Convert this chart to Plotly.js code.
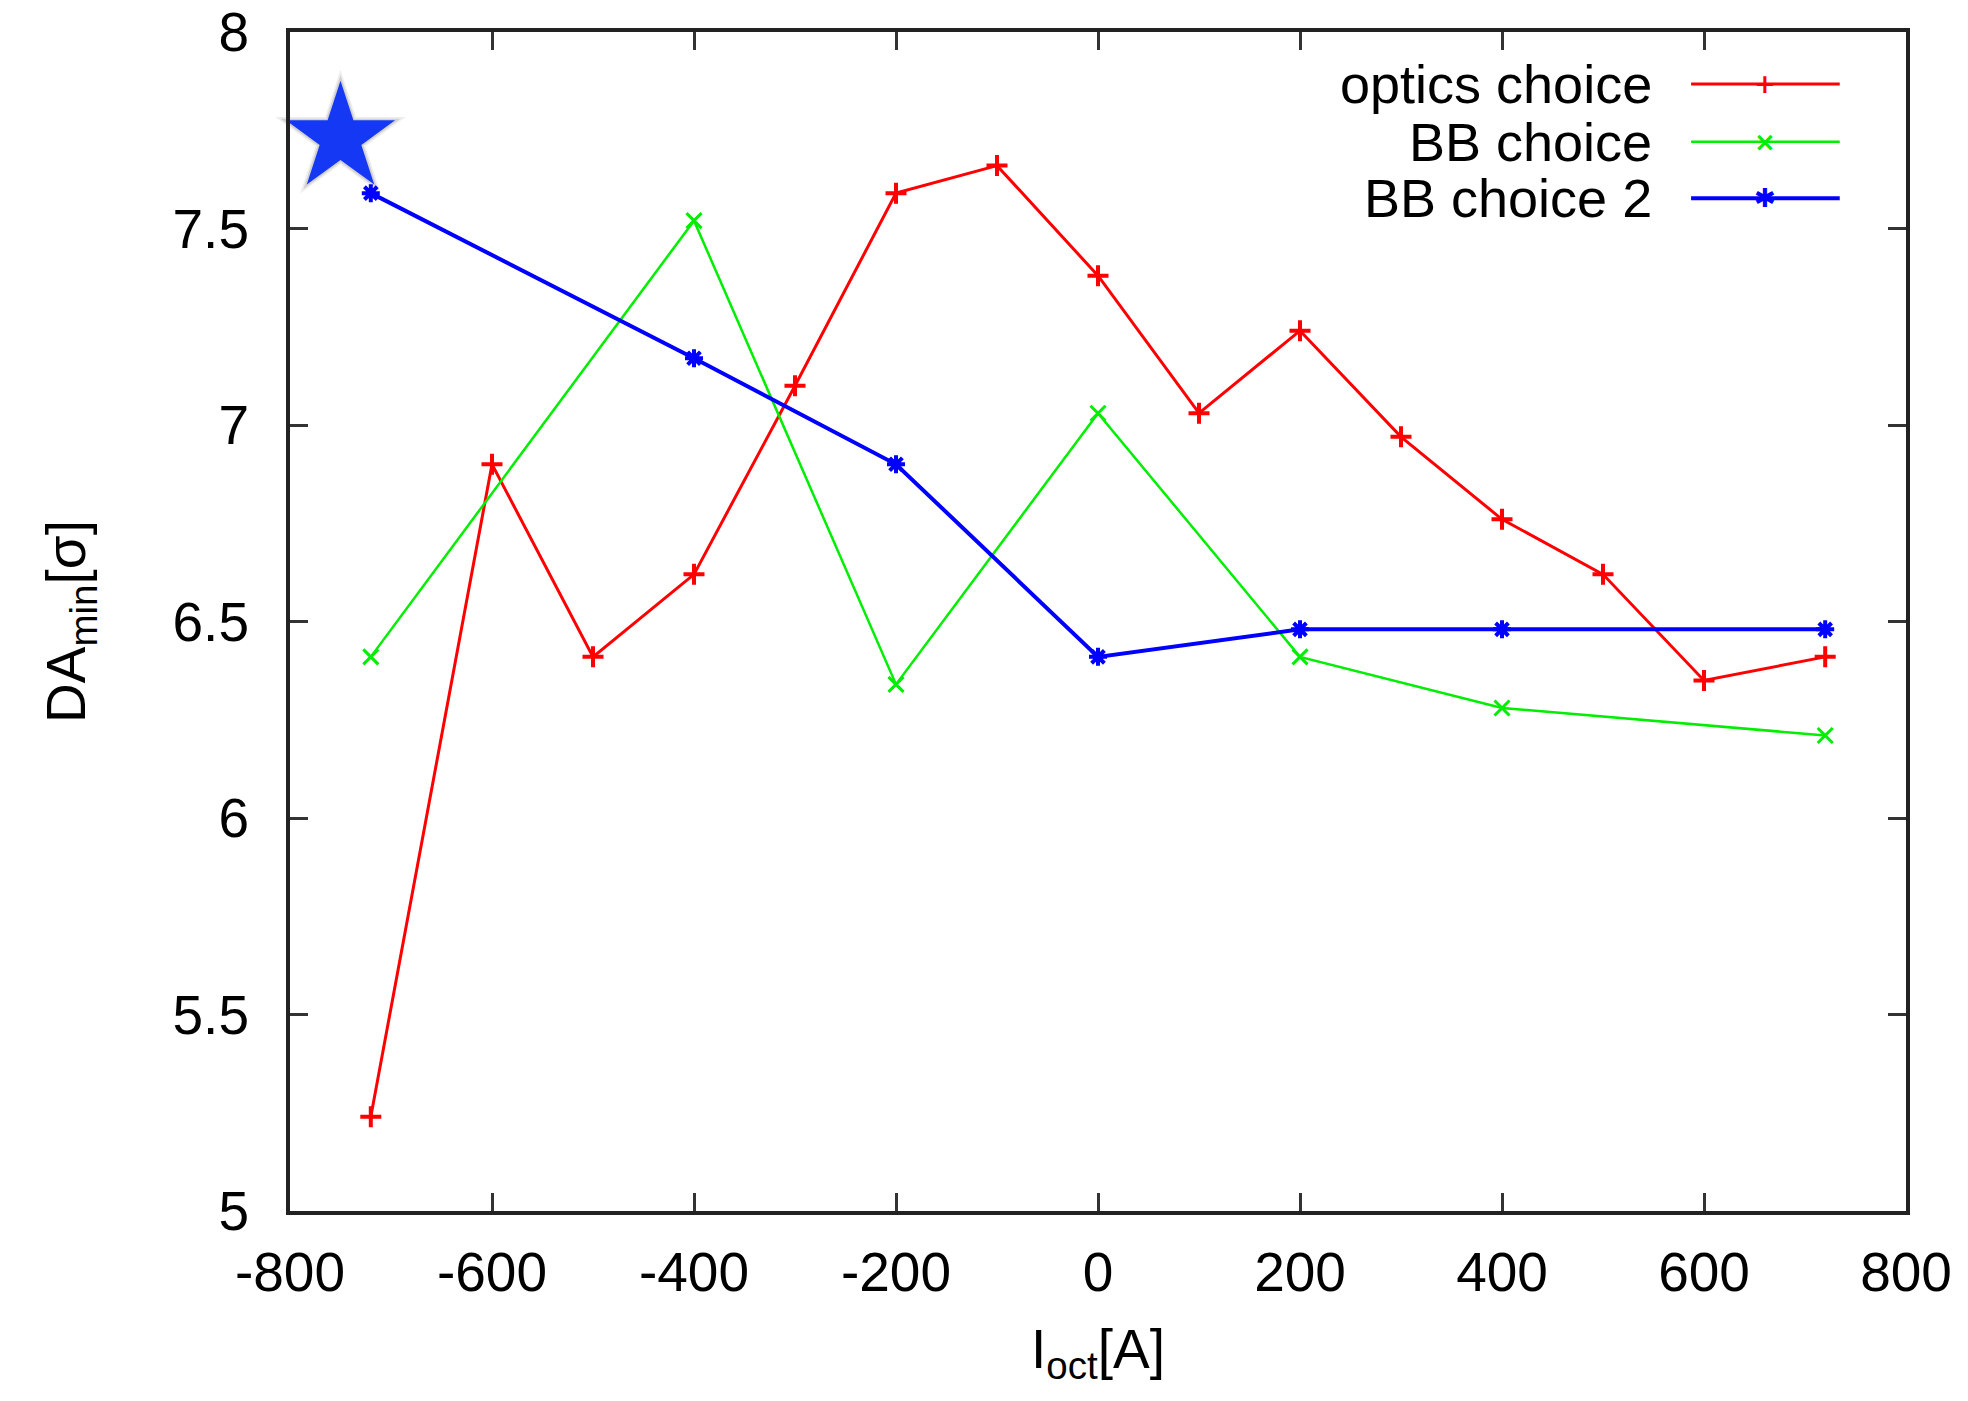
<!DOCTYPE html>
<html>
<head>
<meta charset="utf-8">
<script src="https://cdn.plot.ly/plotly-3.0.1.min.js"></script>
<style>html,body{margin:0;padding:0;background:#fff;}#chart{width:1968px;height:1401px;}</style>
</head>
<body>
<div id="chart"></div>
<script>
// ---- data ----
const seriesNames = ["optics choice", "BB choice", "BB choice 2"];

const opticsX = [-720, -600, -500, -400, -300, -200, -100, 0, 100, 200, 300, 400, 500, 600, 720];
const opticsY = [5.24, 6.90, 6.41, 6.62, 7.10, 7.59, 7.66, 7.38, 7.03, 7.24, 6.97, 6.76, 6.62, 6.35, 6.41];

const bbX = [-720, -400, -200, 0, 200, 400, 720];
const bbY = [6.41, 7.52, 6.34, 7.03, 6.41, 6.28, 6.21];

const bb2X = [-720, -400, -200, 0, 200, 400, 720];
const bb2Y = [7.59, 7.17, 6.90, 6.41, 6.48, 6.48, 6.48];

const starX = [-750];
const starY = [7.73];

const xTicks = [-800, -600, -400, -200, 0, 200, 400, 600, 800];
const yTicks = [5, 5.5, 6, 6.5, 7, 7.5, 8];

// ---- styles ----
const FONT = "Liberation Sans, Arial, Helvetica, sans-serif";
const colors = ["#ff0000", "#00ee00", "#0000ff"];
const symbols = ["cross-thin", "x-thin", "asterisk"];
const widths = [3, 2.5, 4];

const traces = [
  {x: starX, y: starY, mode: "markers", type: "scatter", cliponaxis: false, hoverinfo: "skip",
   marker: {symbol: "star", size: 98, color: "rgba(0,0,0,0.07)", line: {width: 0}}},
  {x: starX, y: starY, mode: "markers", type: "scatter", cliponaxis: false, hoverinfo: "skip",
   marker: {symbol: "star", size: 90, color: "rgba(0,0,0,0.12)", line: {width: 0}}},
  {x: starX, y: starY, mode: "markers", type: "scatter", cliponaxis: false,
   marker: {symbol: "star", size: 82, color: "#1438f4", line: {width: 0}}},
  {x: opticsX, y: opticsY, name: seriesNames[0], mode: "lines+markers", type: "scatter", cliponaxis: false,
   line: {color: colors[0], width: widths[0]},
   marker: {symbol: symbols[0], size: 15, color: colors[0], line: {color: colors[0], width: 4}}},
  {x: bbX, y: bbY, name: seriesNames[1], mode: "lines+markers", type: "scatter", cliponaxis: false,
   line: {color: colors[1], width: widths[1]},
   marker: {symbol: symbols[1], size: 15, color: colors[1], line: {color: colors[1], width: 3}}},
  {x: bb2X, y: bb2Y, name: seriesNames[2], mode: "lines+markers", type: "scatter", cliponaxis: false,
   line: {color: colors[2], width: widths[2]},
   marker: {symbol: symbols[2], size: 15, color: colors[2], line: {color: colors[2], width: 4}}}
];

// manual legend (text on left, sample on right, like gnuplot)
const legY = [0.956, 0.907, 0.859];
const legTextX = 0.844, legL = 0.867, legR = 0.959, legM = 0.913;
const annotations = [];
const shapes = [];
const legGlyph = ["+", "×", "✱"];
for (let i = 0; i < 3; i++) {
  annotations.push({xref: "paper", yref: "paper", x: legTextX, y: legY[i], xanchor: "right", yanchor: "middle",
    text: seriesNames[i], showarrow: false, font: {family: FONT, size: 54, color: "#000"}});
  shapes.push({type: "line", xref: "paper", yref: "paper", x0: legL, x1: legR, y0: legY[i], y1: legY[i],
    line: {color: colors[i], width: widths[i]}});
  annotations.push({xref: "paper", yref: "paper", x: legM, y: legY[i], xanchor: "center", yanchor: "middle",
    text: "<b>" + legGlyph[i] + "</b>", showarrow: false, font: {family: "DejaVu Sans", size: 26, color: colors[i]}});
}

const axisCommon = {
  showline: true, linecolor: "#222", linewidth: 4, mirror: "ticks",
  ticks: "inside", ticklen: 18, tickwidth: 3, tickcolor: "#333",
  showgrid: false, zeroline: false,
  tickfont: {family: FONT, size: 55, color: "#000"}
};

const layout = {
  width: 1968, height: 1401,
  margin: {l: 290, r: 62, t: 32, b: 190},
  paper_bgcolor: "#fff", plot_bgcolor: "#fff",
  showlegend: false,
  xaxis: Object.assign({}, axisCommon, {
    range: [-800, 800], tickvals: xTicks, ticktext: xTicks.map(String),
    ticklabelstandoff: 10,
    title: {text: "I<sub>oct</sub>[A]", font: {family: FONT, size: 55, color: "#000"}, standoff: 28}
  }),
  yaxis: Object.assign({}, axisCommon, {
    range: [5, 8], tickvals: yTicks, ticktext: yTicks.map(String),
    ticklabelstandoff: 26,
    title: {text: "DA<sub>min</sub>[σ]", font: {family: FONT, size: 55, color: "#000"}, standoff: 70}
  }),
  annotations: annotations,
  shapes: shapes
};

Plotly.newPlot("chart", traces, layout, {staticPlot: true});
</script>
</body>
</html>
